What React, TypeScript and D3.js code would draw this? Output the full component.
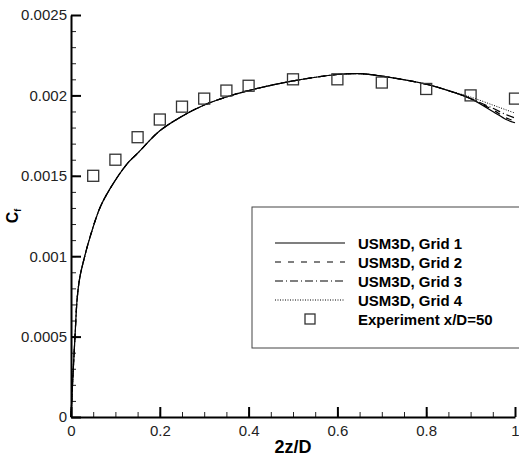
import React, { useEffect, useRef } from 'react';
import * as d3 from 'd3';

// CFD curves (shared abscissa)
const zD = [0, 0.0015, 0.005, 0.009, 0.014, 0.02, 0.03, 0.043, 0.065, 0.088, 0.125, 0.15, 0.2, 0.25, 0.3, 0.35, 0.4, 0.5, 0.6, 0.65, 0.7, 0.8, 0.85, 0.9, 0.95, 0.98, 1.0];
const grid1 = [0, 0.00009, 0.00029, 0.0005, 0.00074, 0.00087, 0.00099, 0.00112, 0.0013, 0.00142, 0.00157, 0.00164, 0.00178, 0.00187, 0.00194, 0.00199, 0.00203, 0.00209, 0.00213, 0.002135, 0.00212, 0.00207, 0.00203, 0.00198, 0.0019, 0.00185, 0.00183];
const grid2 = [0, 0.00009, 0.00029, 0.0005, 0.00074, 0.00087, 0.00099, 0.00112, 0.0013, 0.00142, 0.00157, 0.00164, 0.00178, 0.00187, 0.00194, 0.00199, 0.00203, 0.00209, 0.00213, 0.002135, 0.00212, 0.00207, 0.00203, 0.00198, 0.00191, 0.00186, 0.00184];
const grid3 = [0, 0.00009, 0.00029, 0.0005, 0.00074, 0.00087, 0.00099, 0.00112, 0.0013, 0.00142, 0.00157, 0.00164, 0.00178, 0.00187, 0.00194, 0.00199, 0.00203, 0.00209, 0.00213, 0.002135, 0.00212, 0.00207, 0.00203, 0.00198, 0.00192, 0.00188, 0.00186];
const grid4 = [0, 0.00009, 0.00029, 0.0005, 0.00074, 0.00087, 0.00099, 0.00112, 0.0013, 0.00142, 0.00157, 0.00164, 0.00178, 0.00187, 0.00194, 0.00199, 0.00203, 0.00209, 0.00213, 0.002135, 0.00212, 0.00207, 0.00203, 0.00199, 0.00194, 0.00191, 0.00189];

// experiment x/D=50
const expZ = [0.05, 0.1, 0.15, 0.2, 0.25, 0.3, 0.35, 0.4, 0.5, 0.6, 0.7, 0.8, 0.9, 1.0];
const expCf = [0.0015, 0.0016, 0.00174, 0.00185, 0.00193, 0.00198, 0.00203, 0.00206, 0.0021, 0.0021, 0.00208, 0.00204, 0.002, 0.00198];

const seriesNames = ['USM3D, Grid 1', 'USM3D, Grid 2', 'USM3D, Grid 3', 'USM3D, Grid 4'];
const dashes = [null, '6 7', '8 3 1 3', '1 1.5'];
const xTicks = [0, 0.2, 0.4, 0.6, 0.8, 1];
const yTicks = [0, 0.0005, 0.001, 0.0015, 0.002, 0.0025];

const App = () => {
  const ref = useRef(null);

  useEffect(() => {
    const svg = d3.select(ref.current);
    svg.selectAll('*').remove();
    const x = d3.scaleLinear().domain([0, 1]).range([71, 515]);
    const y = d3.scaleLinear().domain([0, 0.0025]).range([417, 15]);
    const font = '"Liberation Sans", Arial, sans-serif';

    // minor ticks
    svg.append('g')
      .attr('transform', 'translate(0,417)')
      .call(d3.axisBottom(x).tickValues(d3.range(0, 1.001, 0.05)).tickSize(-5).tickFormat(() => ''))
      .call(g => g.select('.domain').remove())
      .selectAll('line').attr('stroke', '#222');
    svg.append('g')
      .attr('transform', 'translate(71,0)')
      .call(d3.axisLeft(y).tickValues(d3.range(0, 0.00251, 0.0001)).tickSize(-5).tickFormat(() => ''))
      .call(g => g.select('.domain').remove())
      .selectAll('line').attr('stroke', '#222');

    // major axes
    const xa = svg.append('g')
      .attr('transform', 'translate(0,417)')
      .call(d3.axisBottom(x).tickValues(xTicks).tickSizeInner(-10).tickSizeOuter(0).tickPadding(8).tickFormat(d => String(d)));
    const ya = svg.append('g')
      .attr('transform', 'translate(71,0)')
      .call(d3.axisLeft(y).tickValues(yTicks).tickSizeInner(-10).tickSizeOuter(0).tickPadding(4).tickFormat(d => String(+d.toFixed(4))));
    [xa, ya].forEach(a => {
      a.attr('font-family', font).attr('font-size', 15);
      a.select('.domain').attr('stroke', '#000').attr('stroke-width', 2);
      a.selectAll('.tick line').attr('stroke', '#000').attr('stroke-width', 2);
      a.selectAll('text').attr('fill', '#222');
    });

    // curves
    const line = d3.line<number>().x((d, i) => x(zD[i])).y(d => y(d)).curve(d3.curveCatmullRom.alpha(0.5));
    [grid1, grid2, grid3, grid4].forEach((s, i) => {
      svg.append('path')
        .attr('d', line(s))
        .attr('fill', 'none')
        .attr('stroke', '#000')
        .attr('stroke-width', i === 3 ? 1 : 1.2)
        .attr('stroke-dasharray', dashes[i]);
    });

    // experiment squares
    svg.append('g').selectAll('rect')
      .data(expZ)
      .join('rect')
      .attr('x', d => x(d) - 5.5)
      .attr('y', (d, i) => y(expCf[i]) - 5.5)
      .attr('width', 11)
      .attr('height', 11)
      .attr('fill', 'none')
      .attr('stroke', '#333')
      .attr('stroke-width', 1.3);

    // axis titles
    svg.append('text')
      .attr('x', 293).attr('y', 453)
      .attr('text-anchor', 'middle')
      .attr('font-family', font).attr('font-weight', 'bold').attr('font-size', 18)
      .text('2z/D');
    const yl = svg.append('text')
      .attr('transform', 'translate(18,216) rotate(-90)')
      .attr('text-anchor', 'middle')
      .attr('font-family', font).attr('font-weight', 'bold').attr('font-size', 16);
    yl.append('tspan').text('C');
    yl.append('tspan').attr('font-size', 9).attr('dy', 3).text('f');

    // legend
    const lg = svg.append('g');
    lg.append('rect')
      .attr('x', 252).attr('y', 207).attr('width', 300).attr('height', 141)
      .attr('fill', '#fff').attr('stroke', '#444').attr('stroke-width', 1);
    const rowY = (i: number) => 243 + i * 19;
    seriesNames.forEach((n, i) => {
      lg.append('line')
        .attr('x1', 275).attr('x2', 345).attr('y1', rowY(i)).attr('y2', rowY(i))
        .attr('stroke', '#000').attr('stroke-width', i === 3 ? 1 : 1.2)
        .attr('stroke-dasharray', dashes[i]);
      lg.append('text')
        .attr('x', 358).attr('y', rowY(i) + 5.5)
        .attr('font-family', font).attr('font-weight', 'bold').attr('font-size', 15)
        .text(n);
    });
    lg.append('rect')
      .attr('x', 310 - 5).attr('y', rowY(4) - 5).attr('width', 10).attr('height', 10)
      .attr('fill', 'none').attr('stroke', '#333').attr('stroke-width', 1.3);
    lg.append('text')
      .attr('x', 358).attr('y', rowY(4) + 5.5)
      .attr('font-family', font).attr('font-weight', 'bold').attr('font-size', 15)
      .text('Experiment x/D=50');
  }, []);

  return (
    <div style={{ position: 'absolute', left: 0, top: 0 }}>
      <svg ref={ref} width={519} height={459} style={{ display: 'block', background: '#fff' }} />
    </div>
  );
};

export default App;
